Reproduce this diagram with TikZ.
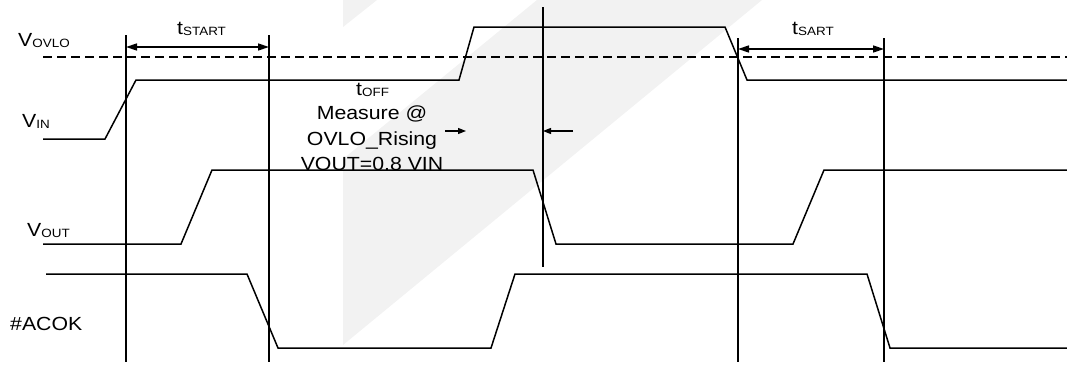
\documentclass[tikz,border=0pt]{standalone}
\usepackage{fontspec}
\setmainfont{Liberation Sans}[FakeStretch=1.12]
\usetikzlibrary{arrows.meta}
\newcommand{\lowsub}[1]{\raisebox{-1.5pt}{\fontsize{12}{12}\selectfont #1}}
\begin{document}
\begin{tikzpicture}[x=1pt,y=-1pt,
  wm/.style={fill=black!5},
  sig/.style={line width=1.5pt,line join=miter},
  guide/.style={line width=1.5pt},
  ovlo/.style={line width=1.5pt,dash pattern=on 9pt off 5pt},
  dim/.style={line width=1.5pt,{Triangle[length=11pt,width=7pt]}-{Triangle[length=11pt,width=7pt]}},
  pointer/.style={line width=1.3pt,-{Triangle[length=8pt,width=6pt]}},
  lbl/.style={inner sep=0pt,font=\fontsize{19}{22}\selectfont}]
\useasboundingbox (0,0) rectangle (1067,364);
% faint watermark
\fill[wm] (343,0) -- (377,0) -- (343,27) -- cycle;
\fill[wm] (537,0) -- (762,0) -- (343,345) -- (343,159) -- cycle;
% OVLO threshold
\coordinate (dL) at (43,57);
\coordinate (dR) at (1067,57);
\draw[ovlo] (dL) -- (dR);
% vertical markers
\coordinate (a1) at (126,35);  \coordinate (a2) at (126,362);
\coordinate (b1) at (269,35);  \coordinate (b2) at (269,362);
\coordinate (c1) at (543,7);   \coordinate (c2) at (543,267);
\coordinate (d1) at (738,38);  \coordinate (d2) at (738,362);
\coordinate (e1) at (884,38);  \coordinate (e2) at (884,362);
\draw[guide] (a1) -- (a2);
\draw[guide] (b1) -- (b2);
\draw[guide] (c1) -- (c2);
\draw[guide] (d1) -- (d2);
\draw[guide] (e1) -- (e2);
% waveforms
\draw[sig] (43,139) -- (105,139) -- (136,80) -- (459,80) -- (474,27) -- (725,27) -- (747,80) -- (1067,80);
\draw[sig] (43,244) -- (181,244) -- (212,170) -- (533,170) -- (556,244) -- (793,244) -- (824,170) -- (1067,170);
\draw[sig] (46,274) -- (247,274) -- (278,348) -- (491,348) -- (515,274) -- (867,274) -- (890,348) -- (1067,348);
% timing arrows
\coordinate (ts1) at (126,47); \coordinate (ts2) at (269,47);
\coordinate (tr1) at (738,49); \coordinate (tr2) at (884,49);
\draw[dim] (ts1) -- (ts2);
\draw[dim] (tr1) -- (tr2);
\coordinate (p1) at (445,131); \coordinate (p2) at (466,131);
\coordinate (q1) at (573,131); \coordinate (q2) at (543,131);
\draw[pointer] (p1) -- (p2);
\draw[pointer] (q1) -- (q2);
% labels
\node[lbl,anchor=base west] (vovlo) at (18,46) {V\lowsub{OVLO}};
\node[lbl,anchor=base west] (vin) at (22,127) {V\lowsub{IN}};
\node[lbl,anchor=base west] (vout) at (27,236) {V\lowsub{OUT}};
\node[lbl,anchor=base west] (acok) at (10,330) {\#ACOK};
\node[lbl,anchor=base west] (tstart) at (177,34) {t\lowsub{START}};
\node[lbl,anchor=base west] (tsart) at (792,34) {t\lowsub{SART}};
\node[lbl,anchor=base west] (toff) at (356,95) {t\lowsub{OFF}};
\node[lbl,anchor=base] (m1) at (372,119) {Measure @};
\node[lbl,anchor=base] (m2) at (372,145) {OVLO\_Rising};
\node[lbl,anchor=base] (m3) at (372,170) {VOUT=0.8 VIN};
\end{tikzpicture}
\end{document}
